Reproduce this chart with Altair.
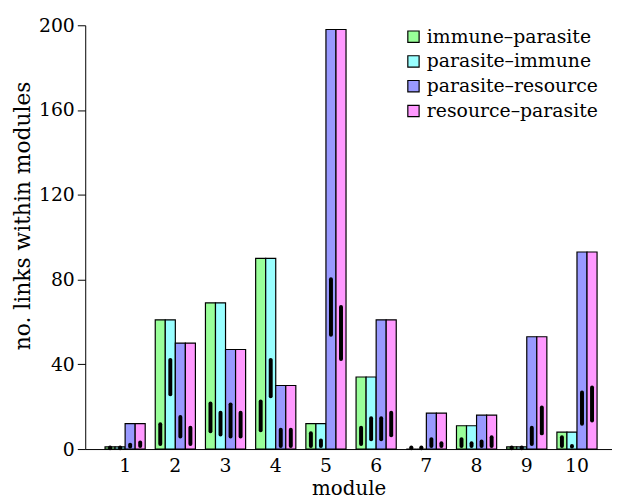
import altair as alt
import pandas as pd

modules = [str(i) for i in range(1, 11)]
series = ["immune–parasite", "parasite–immune", "parasite–resource", "resource–parasite"]
colors = ["#99ff99", "#99ffff", "#9999ff", "#ff99ff"]

# observed numbers of links within modules
immune_parasite = [1, 61, 69, 90, 12, 34, 0, 11, 1, 8]
parasite_immune = [1, 61, 69, 90, 12, 34, 0, 11, 1, 8]
parasite_resource = [12, 50, 47, 30, 198, 61, 17, 16, 53, 93]
resource_parasite = [12, 50, 47, 30, 198, 61, 17, 16, 53, 93]

# expected ranges (black bars)
ip_lo = [0.4, 2.4, 8.4, 8.9, 1.4, 2.4, 0.4, 1.4, 0.4, 1.4]
ip_hi = [0.8, 11.7, 21.5, 22.5, 7.5, 10.1, 0.8, 4.7, 0.8, 5.6]
pi_lo = [0.4, 25.9, 6.9, 24.9, 1.4, 4.6, 0.4, 1.4, 0.4, 1.2]
pi_hi = [0.8, 42.1, 17.1, 42.1, 4.1, 14.5, 0.8, 2.8, 0.8, 1.4]
pr_lo = [1.2, 5.9, 5.9, 1.4, 53.9, 4.6, 1.4, 1.4, 2.4, 11.9]
pr_hi = [2.1, 15.1, 21.1, 9.1, 80.1, 14.5, 4.7, 3.6, 10.1, 26.7]
rp_lo = [1.4, 2.4, 5.9, 1.4, 42.5, 6.5, 1.4, 1.4, 7.4, 13.5]
rp_hi = [3.1, 10.1, 17.1, 9.1, 67.1, 17.1, 2.8, 5.6, 19.6, 29.1]

values = [immune_parasite, parasite_immune, parasite_resource, resource_parasite]
los = [ip_lo, pi_lo, pr_lo, rp_lo]
his = [ip_hi, pi_hi, pr_hi, rp_hi]

rows = []
for i, m in enumerate(modules):
    for s, v, lo, hi in zip(series, values, los, his):
        rows.append(dict(module=m, series=s, value=v[i], lo=lo[i], hi=hi[i]))
df = pd.DataFrame(rows)

FONT = "DejaVu Serif"

xenc = alt.X(
    "module:N",
    sort=modules,
    scale=alt.Scale(paddingInner=0.2, paddingOuter=0.346, align=0.57),
    axis=alt.Axis(
        title="module",
        labelAngle=0,
        ticks=False,
        labelFont=FONT,
        titleFont=FONT,
        labelFontSize=19,
        titleFontSize=20,
        labelPadding=8,
        titlePadding=3,
        domainColor="black",
        labelColor="black",
        titleColor="black",
        titleFontWeight="normal",
    ),
)
xoff = alt.XOffset("series:N", sort=series, scale=alt.Scale(paddingInner=0, paddingOuter=0))

yaxis = alt.Axis(
    values=[0, 40, 80, 120, 160, 200],
    grid=False,
    title="no. links within modules",
    labelFont=FONT,
    titleFont=FONT,
    labelFontSize=19,
    titleFontSize=22,
    titleY=192,
    tickSize=8,
    tickColor="black",
    domainColor="black",
    labelColor="black",
    titleColor="black",
    labelFlush=False,
    labelPadding=3,
    titlePadding=4,
    titleFontWeight="normal",
)

bars = alt.Chart(df).mark_bar(stroke="black", strokeWidth=1.2).encode(
    x=xenc,
    xOffset=xoff,
    y=alt.Y("value:Q", scale=alt.Scale(domain=[0, 200], nice=False), axis=yaxis),
    color=alt.Color(
        "series:N",
        sort=series,
        scale=alt.Scale(domain=series, range=colors),
        legend=alt.Legend(
            title=None,
            orient="none",
            legendX=322,
            legendY=2,
            labelFont=FONT,
            labelFontSize=19,
            labelLimit=400,
            labelColor="black",
            symbolType="square",
            symbolSize=130,
            symbolStrokeColor="black",
            symbolStrokeWidth=1.2,
            symbolOpacity=1,
            rowPadding=5,
            labelOffset=4,
        ),
    ),
)

rules = alt.Chart(df).mark_rule(color="black", strokeWidth=4, strokeCap="round").encode(
    x=xenc,
    xOffset=xoff,
    y=alt.Y("lo:Q"),
    y2="hi:Q",
)

chart = (
    alt.layer(bars, rules)
    .properties(
        width=532,
        height=428,
        autosize=alt.AutoSizeParams(type="none"),
        padding={"left": 78, "top": 15, "right": 0, "bottom": 50},
    )
    .configure(font=FONT)
    .configure_view(stroke=None)
)

chart.save("out.html", embed_options={"renderer": "svg", "actions": False})
